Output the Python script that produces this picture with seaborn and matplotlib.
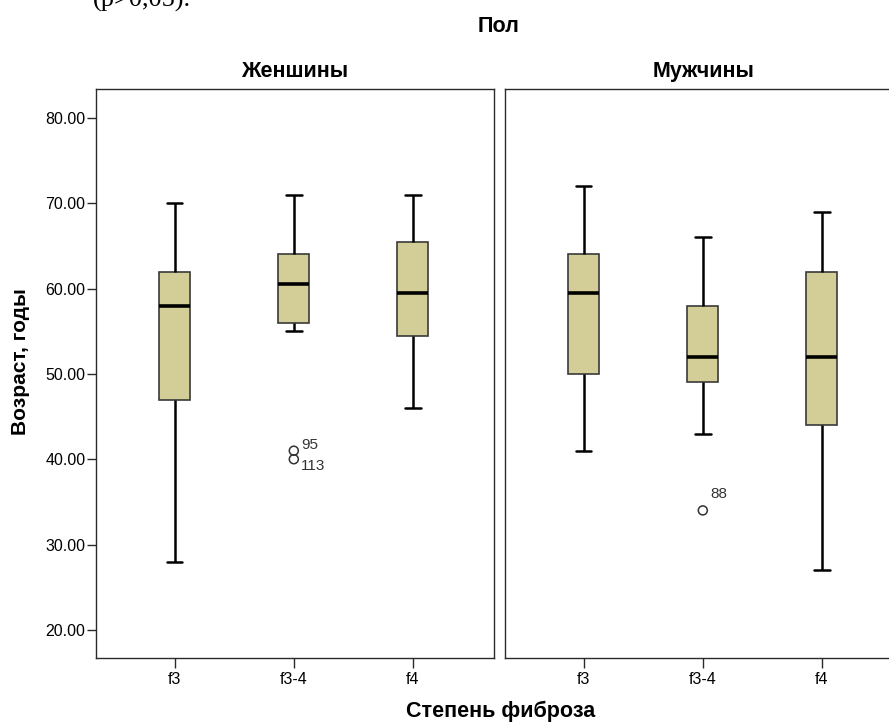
import numpy as np
import pandas as pd
import matplotlib
matplotlib.use("Agg")
import matplotlib.pyplot as plt
import seaborn as sns

# Fibrosis grades and panels
grades = ["f3", "f3-4", "f4"]
sexes = ["Женшины", "Мужчины"]

# Five-number summaries of age per grade (low whisker, Q1, median, Q3, high whisker)
women_low = [28, 55, 46]
women_q1 = [47, 56, 54.5]
women_med = [58, 60.5, 59.5]
women_q3 = [62, 64, 65.5]
women_high = [70, 71, 71]

men_low = [41, 43, 27]
men_q1 = [50, 49, 44]
men_med = [59.5, 52, 52]
men_q3 = [64, 58, 62]
men_high = [72, 66, 69]

# Outlying cases: panel, grade, age, case number
outlier_sex = ["Женшины", "Женшины", "Мужчины"]
outlier_grade = ["f3-4", "f3-4", "f3-4"]
outlier_age = [41, 40, 34]
outlier_case = ["95", "113", "88"]

y_ticks = [20, 30, 40, 50, 60, 70, 80]

rows = []
for sex, summ in zip(sexes, [
    (women_low, women_q1, women_med, women_q3, women_high),
    (men_low, men_q1, men_med, men_q3, men_high),
]):
    for i, g in enumerate(grades):
        for arr in summ:
            rows.append({"sex": sex, "grade": g, "age": arr[i]})
df = pd.DataFrame(rows)
out_df = pd.DataFrame({"sex": outlier_sex, "grade": outlier_grade,
                       "age": outlier_age, "case": outlier_case})

sns.set_theme(style="white")
plt.rcParams["font.family"] = ["Liberation Sans", "DejaVu Sans"]
for key in ["text.color", "axes.labelcolor", "xtick.color", "ytick.color"]:
    plt.rcParams[key] = "black"

W, H = 889, 722
fig = plt.figure(figsize=(W / 100, H / 100), dpi=100)

top_px, bot_px = 89, 658
panel_px = [(96, 494), (505, 903)]
axes = []
for (l, r) in panel_px:
    ax = fig.add_axes([l / W, 1 - bot_px / H, (r - l) / W, (bot_px - top_px) / H])
    axes.append(ax)

# vertical offset (in years) of each case label relative to its point
label_dy = {"95": 0.65, "113": -0.85, "88": 1.95}

box_fill = "#D3CE97"
for k, (ax, sex) in enumerate(zip(axes, sexes)):
    sub = df[df["sex"] == sex]
    sns.boxplot(data=sub, x="grade", y="age", order=grades, ax=ax,
                whis=(0, 100), width=0.26, color=box_fill, saturation=1,
                linecolor="black", linewidth=1.6, fliersize=0,
                boxprops=dict(edgecolor="#3a3a3a", linewidth=1.2),
                medianprops=dict(color="black", linewidth=2.6),
                whiskerprops=dict(color="black", linewidth=1.8),
                capprops=dict(color="black", linewidth=1.8))
    o = out_df[out_df["sex"] == sex]
    sns.scatterplot(data=o, x="grade", y="age", ax=ax, marker="o", s=42,
                    facecolor="none", edgecolor="#333333", linewidth=1.1,
                    legend=False, zorder=5)
    for _, row in o.iterrows():
        xi = grades.index(row["grade"])
        ax.text(xi + 0.06, row["age"] + label_dy[row["case"]], row["case"],
                fontsize=11, color="#333333", ha="left", va="center")

    ax.set_xlim(-0.66, 2.68)
    ax.set_ylim(16.7, 83.4)
    ax.set_xlabel("")
    ax.set_ylabel("")
    ax.set_title(sex, fontsize=15.5, fontweight="bold", pad=8.5)
    for s in ax.spines.values():
        s.set_color("#2a2a2a")
        s.set_linewidth(1.0)
    ax.tick_params(axis="x", bottom=True, length=7, width=1, color="#2a2a2a",
                   labelsize=11.5, pad=3)
    ax.set_yticks(y_ticks)
    if k == 0:
        ax.set_yticklabels([f"{v:.2f}" for v in y_ticks])
        ax.tick_params(axis="y", left=True, length=6.5, width=1, color="#2a2a2a",
                       labelsize=11.5, pad=1)
    else:
        ax.tick_params(axis="y", left=False, labelleft=False)

fig.text(499 / W, 1 - 26 / H, "Пол", ha="center", va="center",
         fontsize=15.5, fontweight="bold")
fig.text(501 / W, 1 - 711 / H, "Степень фиброза", ha="center", va="center",
         fontsize=15.5, fontweight="bold")
fig.text(21 / W, 1 - 362 / H, "Возраст, годы", ha="center", va="center",
         rotation=90, fontsize=15, fontweight="bold")
fig.text(93 / W, 1 - 7 / H, "(p>0,05).", ha="left", va="baseline",
         fontsize=19, family=["Liberation Serif", "DejaVu Serif"])

fig.savefig("out.png", dpi=100)
